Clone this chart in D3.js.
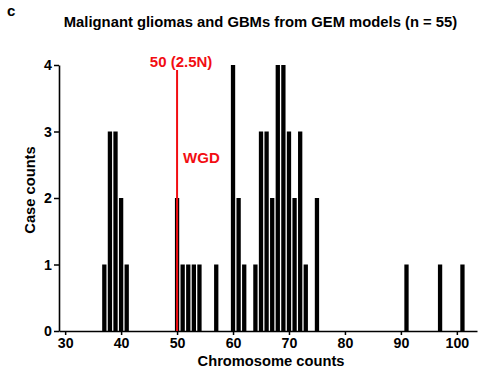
<!DOCTYPE html>
<html>
<head>
<meta charset="utf-8">
<script src="https://cdn.jsdelivr.net/npm/d3@7"></script>
<style>
  body { margin: 0; background: #fff; }
  text { font-family: "Liberation Sans", Arial, sans-serif; font-weight: bold; }
</style>
</head>
<body>
<div class="chart"></div>
<script>
// chromosome counts and how many cases have each
const chromosomes = [37, 38, 39, 40, 41, 50, 51, 52, 53, 54, 57, 60, 61, 62, 64, 65, 66, 67, 68, 69, 70, 71, 72, 73, 75, 91, 97, 101];
const caseCounts  = [ 1,  3,  3,  2,  1,  2,  1,  1,  1,  1,  1,  4,  2,  1,  1,  3,  3,  2,  4,  4,  3,  2,  3,  1,  2,  1,  1,   1];
const xTicks = [30, 40, 50, 60, 70, 80, 90, 100];
const yTicks = [0, 1, 2, 3, 4];
const wgdValue = 50;

const data = chromosomes.map((c, i) => ({ chrom: c, count: caseCounts[i] }));

const red = "#f20d12";

const svg = d3.select('.chart')
    .append('svg')
        .attr("width", 478)
        .attr("height", 374)

const xScale = d3.scaleLinear()
    .domain([28.9, 103.6])
    .range([59, 477]);

const yScale = d3.scaleLinear()
    .domain([0, 4])
    .range([331, 65]);

const barW = (xScale(1) - xScale(0)) - 1.3;

svg.selectAll('.bar')
    .data(data)
    .join("rect")
    .attr("class", "bar")
    .attr("x", d => xScale(d.chrom) - barW / 2)
    .attr("y", d => yScale(d.count))
    .attr("width", barW)
    .attr("height", d => yScale(0) - yScale(d.count))
    .attr("fill", "#000");

// axes
const xAxis = svg.append("g")
    .attr("transform", `translate(0,${yScale(0)})`)
    .call(d3.axisBottom(xScale).tickValues(xTicks).tickSize(4).tickSizeOuter(0));

const yAxis = svg.append("g")
    .attr("transform", `translate(${xScale.range()[0]},0)`)
    .call(d3.axisLeft(yScale).tickValues(yTicks).tickFormat(d3.format("d")).tickSize(5).tickSizeOuter(0));

[xAxis, yAxis].forEach(g => {
    g.select(".domain").attr("stroke", "#000").attr("stroke-width", 1.6);
    g.selectAll(".tick line").attr("stroke", "#000").attr("stroke-width", 1.5);
    g.selectAll(".tick text")
        .attr("fill", "#000")
        .style("font-size", "14.2px")
        .style("font-weight", "bold")
        .style("font-family", '"Liberation Sans", Arial, sans-serif');
});
yAxis.selectAll(".tick text").attr("x", -7);

// whole genome doubling line
svg.append("line")
    .attr("x1", xScale(wgdValue))
    .attr("x2", xScale(wgdValue))
    .attr("y1", yScale(4) + 5)
    .attr("y2", yScale(0))
    .attr("stroke", red)
    .attr("stroke-width", 2);

svg.append("text")
    .attr("x", xScale(wgdValue) + 4)
    .attr("y", 67)
    .attr("text-anchor", "middle")
    .attr("fill", red)
    .style("font-size", "15px")
    .text("50 (2.5N)");

svg.append("text")
    .attr("x", xScale(wgdValue) + 6)
    .attr("y", 163)
    .attr("fill", red)
    .style("font-size", "15px")
    .text("WGD");

// titles
svg.append("text")
    .attr("x", 7)
    .attr("y", 16)
    .style("font-size", "15px")
    .text("c");

svg.append("text")
    .attr("x", 260.5)
    .attr("y", 27)
    .attr("text-anchor", "middle")
    .style("font-size", "14.8px")
    .text("Malignant gliomas and GBMs from GEM models (n = 55)");

svg.append("text")
    .attr("x", 271)
    .attr("y", 366)
    .attr("text-anchor", "middle")
    .style("font-size", "14.7px")
    .text("Chromosome counts");

svg.append("text")
    .attr("transform", "translate(35,190) rotate(-90)")
    .attr("text-anchor", "middle")
    .style("font-size", "14.7px")
    .text("Case counts");
</script>
</body>
</html>
